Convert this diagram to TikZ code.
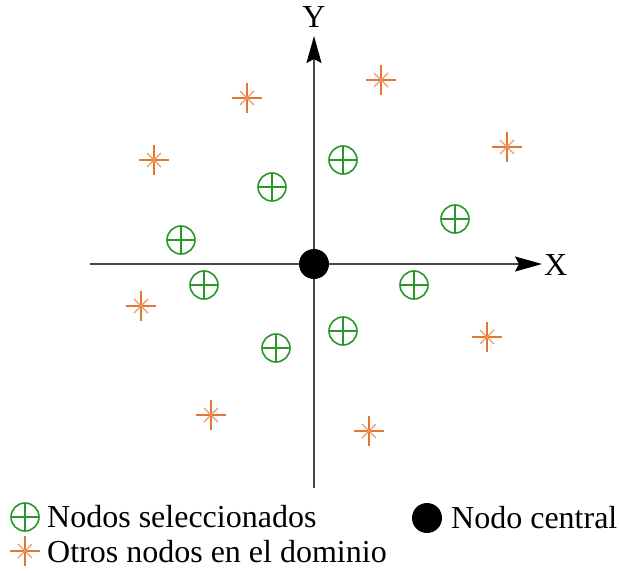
\documentclass[tikz,border=0pt]{standalone}
\usepackage{fontspec}
\setmainfont{Liberation Serif}
\usetikzlibrary{arrows.meta}
\definecolor{selgreen}{RGB}{40,150,40}
\definecolor{othorange}{RGB}{225,120,50}
\definecolor{axisgray}{RGB}{70,70,70}
\tikzset{
  axisline/.style={draw=axisgray, line width=1.8pt, -{Stealth[length=27pt,width=15pt,inset=4pt,color=black]}},
  lbl/.style={font=\fontsize{32}{36}\selectfont, inner sep=0pt},
  selnode/.pic={
    \draw[selgreen, line width=1.6pt] (0,0) circle (14);
    \draw[selgreen, line width=1.6pt] (-14,0) -- (14,0) (0,-14) -- (0,14);
  },
  othnode/.pic={
    \draw[othorange, line width=1.6pt] (-15,0) -- (15,0) (0,-15) -- (0,15);
    \draw[othorange!75, line width=1.2pt] (-7,-7) -- (7,7) (-7,7) -- (7,-7);
  },
  centralnode/.style={circle, fill=black, minimum size=30pt, inner sep=0pt}
}
\begin{document}
\begin{tikzpicture}[x=1pt, y=-1pt]
  \useasboundingbox (0,0) rectangle (619,573);
  % axes
  \coordinate (xs) at (90,264);
  \coordinate (xe) at (542,264);
  \coordinate (ys) at (314,488);
  \coordinate (ye) at (314,36);
  \draw[axisline] (xs) -- (xe);
  \draw[axisline] (ys) -- (ye);
  \node[lbl, anchor=west] (xl) at (544,265) {X};
  \node[lbl] (yl) at (314,17) {Y};
  % selected nodes
  \foreach \p in {(343,160),(272,187),(455,219),(181,240),(204,285),(414,285),(343,331),(276,348)}
    \pic at \p {selnode};
  % other nodes in the domain
  \foreach \p in {(381,80),(247,98),(154,160),(507,147),(141,306),(487,337),(211,415),(369,431)}
    \pic at \p {othnode};
  % central node
  \node[centralnode] (c) at (314,264) {};
  % legend
  \pic at (25,517) {selnode};
  \node[lbl, anchor=west] (l1) at (47,517) {Nodos seleccionados};
  \pic at (25,551) {othnode};
  \node[lbl, anchor=west] (l2) at (47,552) {Otros nodos en el dominio};
  \node[centralnode] (lc) at (427,518) {};
  \node[lbl, anchor=west] (l3) at (451,518) {Nodo central};
\end{tikzpicture}
\end{document}
